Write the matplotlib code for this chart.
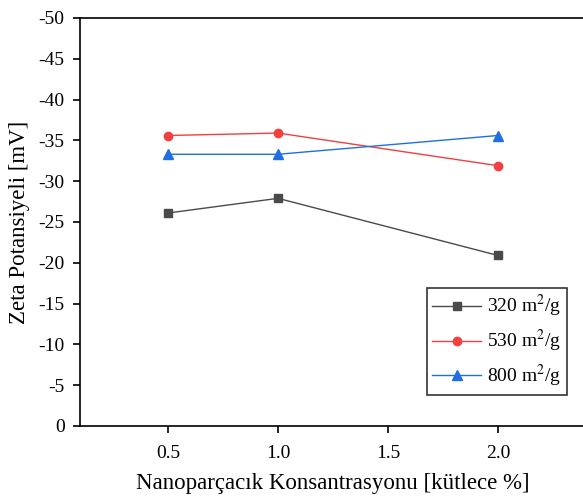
import numpy as np
import matplotlib.pyplot as plt

plt.rcParams['font.family'] = ['Liberation Serif', 'DejaVu Serif']
plt.rcParams['mathtext.fontset'] = 'stix'
plt.rcParams['axes.unicode_minus'] = False

konsantrasyon = [0.5, 1.0, 2.0]
zeta_320 = [-26.1, -27.9, -20.9]
zeta_530 = [-35.6, -35.9, -31.9]
zeta_800 = [-33.3, -33.3, -35.6]
etiketler = ['320 m$^2$/g', '530 m$^2$/g', '800 m$^2$/g']

fig = plt.figure(figsize=(5.83, 5.03), dpi=100)
ax = fig.add_axes([80/583, 77/503, 528/583, 408/503])

ax.plot(konsantrasyon, zeta_320, color='#4a4a4a', marker='s', ms=5.5, lw=1, label=etiketler[0])
ax.plot(konsantrasyon, zeta_530, color='#f04040', marker='o', ms=6, lw=1, label=etiketler[1])
ax.plot(konsantrasyon, zeta_800, color='#1f6fe0', marker='^', ms=6.5, lw=1, label=etiketler[2])

ax.set_xlim(0.1, 2.5)
ax.set_ylim(0, -50)
ax.set_xticks([0.5, 1.0, 1.5, 2.0])
ax.set_yticks(np.arange(0, -55, -5))
ax.tick_params(labelsize=14, direction='out', length=5, width=1.2, pad=6)
ax.tick_params(axis='x', pad=9)
for s in ax.spines.values():
    s.set_linewidth(1.2)

ax.set_xlabel('Nanoparçacık Konsantrasyonu [kütlece %]', fontsize=16.5, labelpad=7)
ax.xaxis.set_label_coords(0.478, -0.115)
ax.set_ylabel('Zeta Potansiyeli [mV]', fontsize=16.5, labelpad=6)

leg = ax.legend(loc='lower right', bbox_to_anchor=(0.922, 0.076), borderaxespad=0,
                fontsize=14, frameon=True, fancybox=False, edgecolor='black',
                handlelength=2.5, handletextpad=0.3, borderpad=0.3, labelspacing=0.45)
leg.get_frame().set_linewidth(1.2)

fig.savefig('out.png', dpi=100)
